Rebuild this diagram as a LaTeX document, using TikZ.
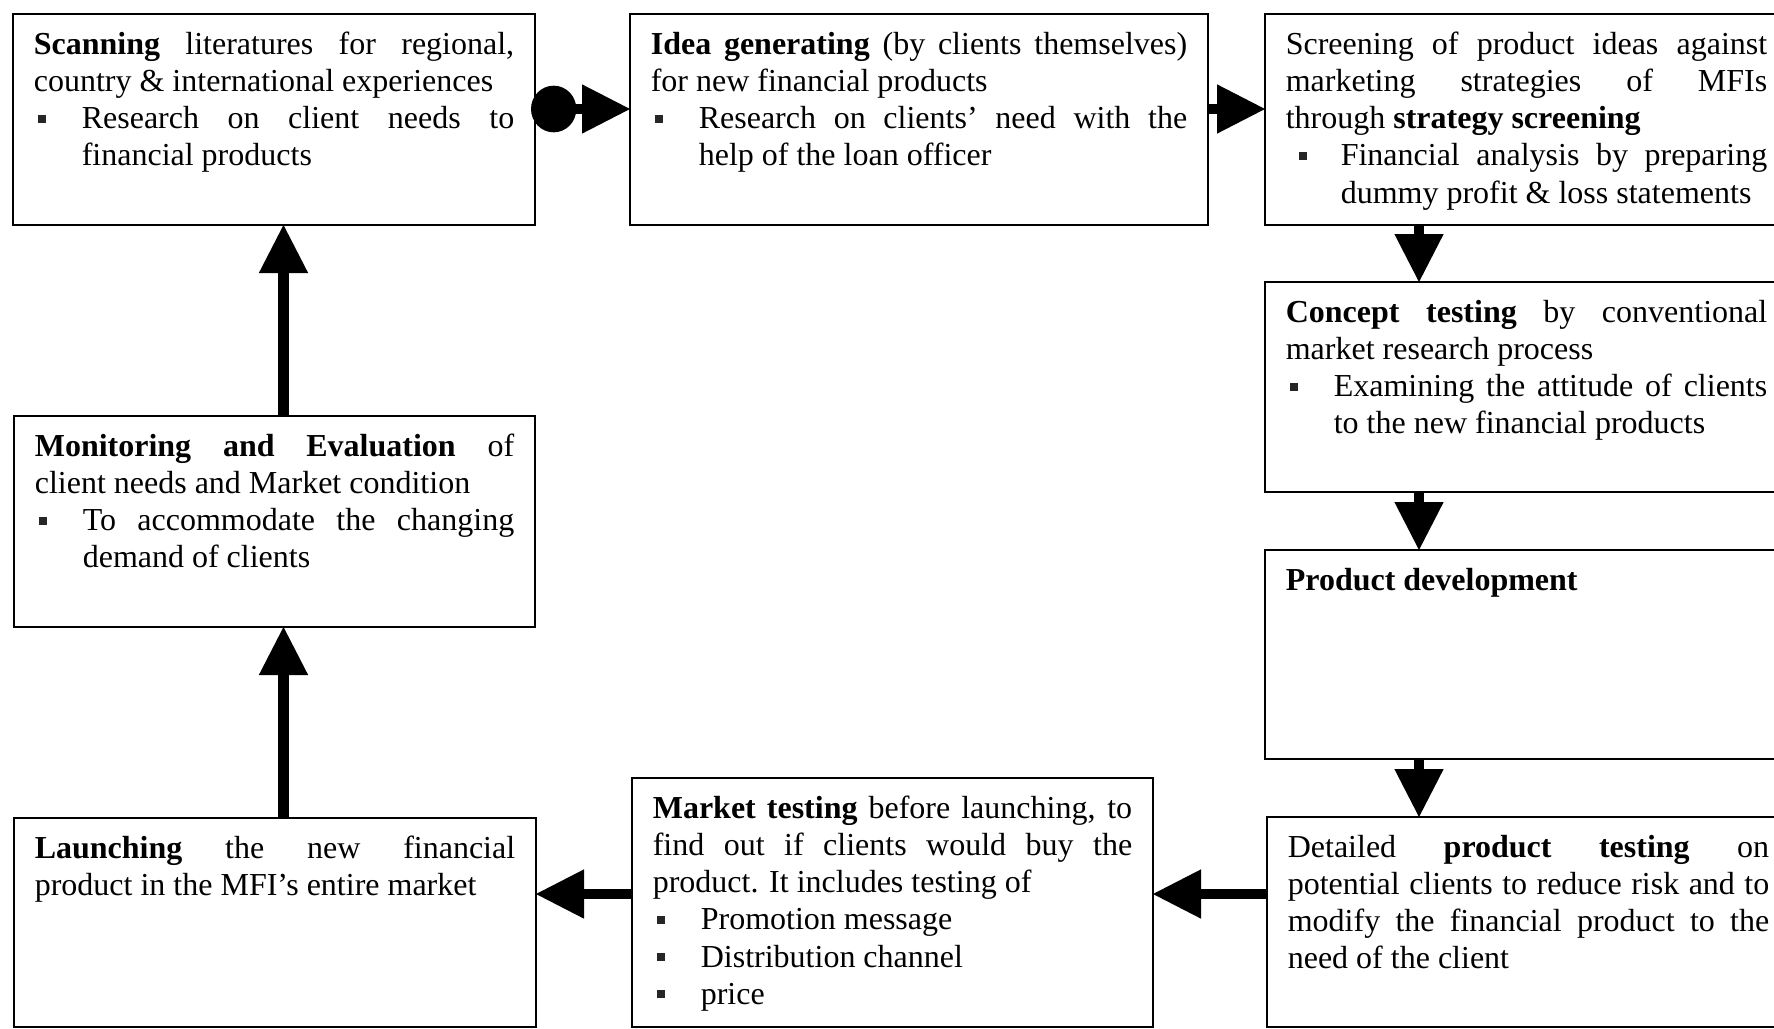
\documentclass[tikz,border=0pt]{standalone}
\usepackage{fontspec}
\setmainfont{Liberation Serif}
\usetikzlibrary{arrows.meta,calc}
\newcommand\bx[3]{\parbox[t][#2][t]{#1}{\fontsize{12pt}{13.95pt}\selectfont\tolerance=10000\hbadness=10000\rule{0pt}{11.1pt}#3}}
\newcommand\itmx[2]{\par\hangindent=#1\relax\hangafter=1\noindent\makebox[#1][l]{\hspace{#2}\raisebox{2.2pt}{\color{black!85}\rule{3pt}{3pt}}}\ignorespaces}
\newcommand\itm{\itmx{18pt}{1.6pt}}
\begin{document}
\begin{tikzpicture}[x=0.375pt,y=-0.375pt,
  box/.style={draw,line width=0.8pt,anchor=north west,inner xsep=7.8pt,inner ysep=4pt,outer sep=0pt},
  flow/.style={line width=4pt,-{Triangle[length=18pt,width=18.5pt,line width=0pt]}},
  flowc/.style={line width=4pt,{Circle[length=17pt,width=17.5pt,line width=0pt]}-{Triangle[length=18pt,width=18.5pt,line width=0pt]}}]
\useasboundingbox (0,0) rectangle (1774,1028);
\clip (0,0) rectangle (1774,1028);
\fill[white] (0,0) rectangle (1774,1028);

\node[box] (scan) at (13,14) {\bx{180.15pt}{71.125pt}{\textbf{Scanning} literatures for regional,\linebreak country \& international experiences\itm Research on client needs to\linebreak financial products}};

\node[box] (idea) at (630,14) {\bx{201.15pt}{71.125pt}{\textbf{Idea generating} (by clients themselves)\linebreak for new financial products\itm Research on clients’ need with the\linebreak help of the loan officer}};

\node[box] (screen) at (1265,14) {\bx{180.525pt}{71.125pt}{Screening of product ideas against\linebreak marketing strategies of MFIs\linebreak through \textbf{strategy screening}\itmx{20.6pt}{5pt}Financial analysis by preparing\linebreak dummy profit \& loss statements}};

\node[box] (concept) at (1265,282) {\bx{180.525pt}{70.75pt}{\textbf{Concept testing} by conventional\linebreak market research process\itm Examining the attitude of clients\linebreak to the new financial products}};

\node[box] (dev) at (1265,550) {\bx{180.525pt}{70.375pt}{\textbf{Product development}}};

\node[box] (detail) at (1267,817) {\bx{180.525pt}{70.75pt}{Detailed \textbf{product testing} on\linebreak potential clients to reduce risk and to\linebreak modify the financial product to the\linebreak need of the client}};

\node[box] (market) at (632,778) {\bx{179.775pt}{85.375pt}{\textbf{Market testing} before launching, to\linebreak find out if clients would buy the\linebreak product. It includes testing of\itm Promotion message\itm Distribution channel\itm price}};

\node[box] (launch) at (14,818) {\bx{180.15pt}{70.375pt}{\textbf{Launching} the new financial\linebreak product in the MFI’s entire market}};

\node[box] (monitor) at (14,416) {\bx{179.775pt}{71.125pt}{\textbf{Monitoring and Evaluation} of\linebreak client needs and Market condition\itm To accommodate the changing\linebreak demand of clients}};

\coordinate (r1) at (0,109);
\coordinate (r2) at (0,894);
\coordinate (c1) at (1419,0);
\coordinate (c2) at (283.5,0);

\draw[flowc] ($(scan.east |- r1)+(-4,0)$) -- (idea.west |- r1);
\draw[flow] (idea.east |- r1) -- (screen.west |- r1);
\draw[flow] (screen.south -| c1) -- (concept.north -| c1);
\draw[flow] (concept.south -| c1) -- (dev.north -| c1);
\draw[flow] (dev.south -| c1) -- (detail.north -| c1);
\draw[flow] (detail.west |- r2) -- (market.east |- r2);
\draw[flow] (market.west |- r2) -- (launch.east |- r2);
\draw[flow] (launch.north -| c2) -- (monitor.south -| c2);
\draw[flow] (monitor.north -| c2) -- (scan.south -| c2);
\end{tikzpicture}
\end{document}
